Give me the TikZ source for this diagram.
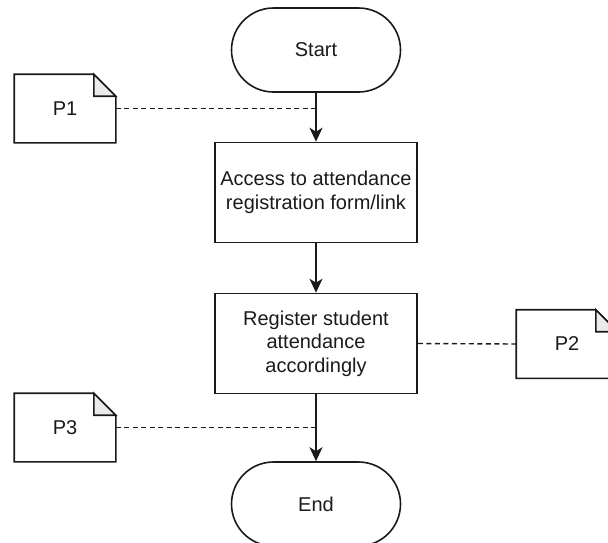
\documentclass[tikz,border=0pt]{standalone}
\usepackage{fontspec}
\setmainfont{Liberation Sans}
\usetikzlibrary{arrows.meta}

\definecolor{ink}{HTML}{1A1A1A}
\definecolor{foldgray}{HTML}{EBEBEB}

\tikzset{
  base/.style={line width=1.6pt, draw=ink, text=ink, font=\fontsize{20}{23.5}\selectfont, align=center, inner sep=0pt},
  terminal/.style={base, draw, rounded corners=42pt, minimum width=169pt, minimum height=84pt},
  process/.style={base, draw, minimum width=202pt, minimum height=100pt},
  notebox/.style={base, draw=none, minimum width=100pt, minimum height=67pt},
  noteline/.style={line width=1.6pt, draw=ink, line join=miter},
  flow/.style={line width=1.6pt, draw=ink, -{Stealth[length=14pt,width=13pt,inset=4pt]}},
  link/.style={line width=1.4pt, draw=ink, dash pattern=on 5pt off 3.5pt}
}

\begin{document}
\begin{tikzpicture}[x=1pt, y=-1pt]
  \useasboundingbox (0,0) rectangle (608,542);
  \clip (0,0) rectangle (608,542);

  % main flow
  \node[terminal] (start) at (316,50)    {Start};
  \node[process]  (acc)   at (316,192.5) {Access to attendance\\registration form/link};
  \node[process]  (reg)   at (316,343.5) {Register student\\attendance\\accordingly};
  \node[terminal] (end)   at (316,504)   {End};

  \draw[flow] (start) -- (acc);
  \draw[flow] (acc) -- (reg);
  \draw[flow] (reg) -- (end);

  % annotation notes with a folded top-right corner
  \node[notebox] (p1) at (65,108.5) {P1};
  \node[notebox] (p2) at (567,344)  {P2};
  \node[notebox] (p3) at (65,427.5) {P3};

  \foreach \n in {p1,p2,p3}{
    \draw[noteline]
      (\n.south west) -- (\n.north west) -- ([xshift=-22pt]\n.north east)
      -- ([yshift=-22pt]\n.north east) -- (\n.south east) -- cycle;
    \draw[noteline, fill=foldgray]
      ([xshift=-22pt]\n.north east) -- ([xshift=-22pt,yshift=-22pt]\n.north east)
      -- ([yshift=-22pt]\n.north east) -- cycle;
  }

  % dashed links to the flow
  \coordinate (j1) at (316,108.5);
  \coordinate (j3) at (316,427.5);
  \draw[link] (p1.east) -- (j1);
  \draw[link] (reg.east) -- (p2.west);
  \draw[link] (p3.east) -- (j3);
\end{tikzpicture}
\end{document}
